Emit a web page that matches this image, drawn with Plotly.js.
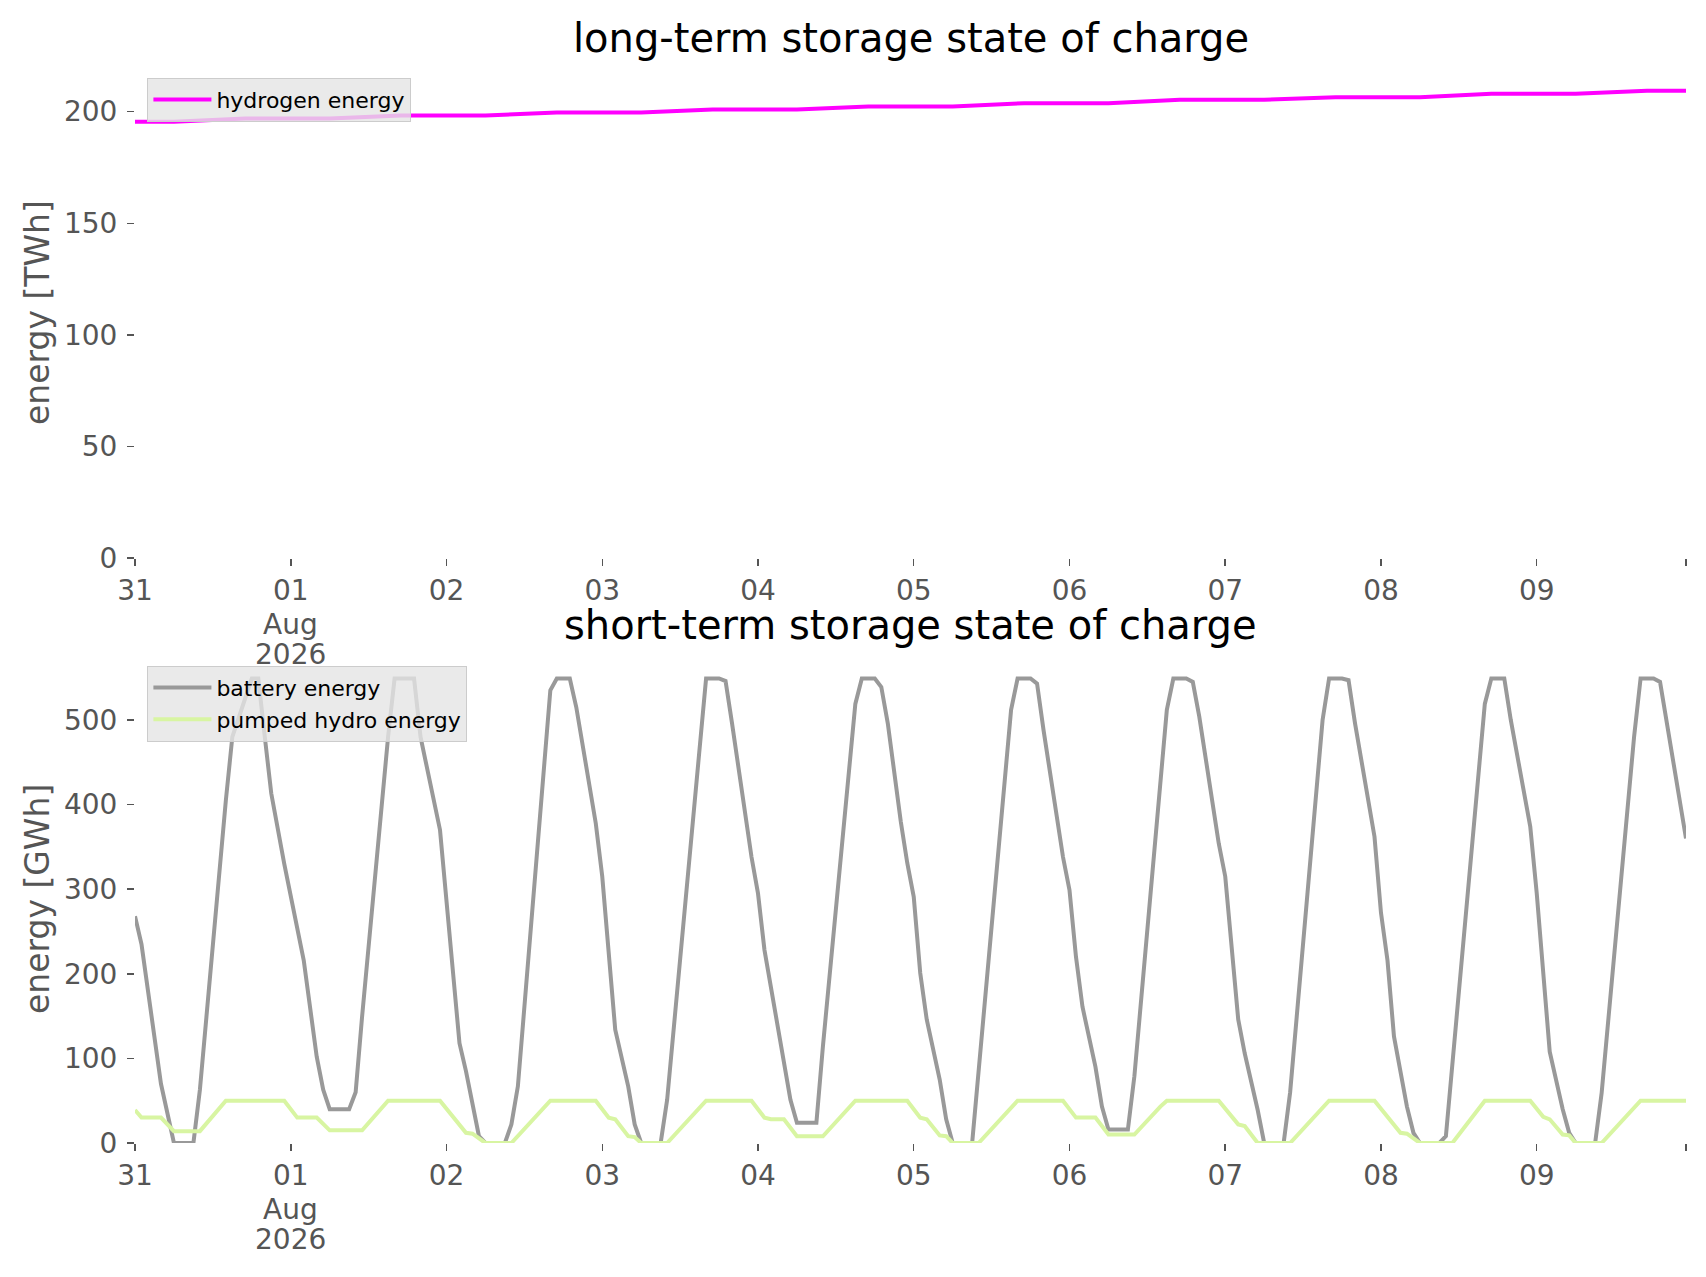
<!DOCTYPE html>
<html>
<head>
<meta charset="utf-8">
<script src="https://cdn.plot.ly/plotly-3.0.1.min.js"></script>
<style>
  html, body { margin: 0; padding: 0; background: #fff; }
  #myPlot { width: 1706px; height: 1277px; }
</style>
</head>
<body>
<div id="myPlot"></div>
<script>
// hours since 2026-07-31 00:00 and the values
let hydrogenHours = [0, 6, 17, 30, 41, 54, 65, 78, 89, 102, 113, 126, 137, 150, 161, 174, 185, 198, 209, 222, 233, 239];
let hydrogenTWh = [195.5, 195.5, 196.9, 196.9, 198.3, 198.3, 199.6, 199.6, 201.0, 201.0, 202.3, 202.3, 203.8, 203.8, 205.3, 205.3, 206.5, 206.5, 208.0, 208.0, 209.4, 209.4];

let batteryHours = [0, 1, 4, 6, 9, 10, 14, 15, 18, 19, 20, 21, 23, 24, 26, 28, 29, 30, 33, 34, 35, 39, 40, 43, 44, 47, 48, 50, 51, 53, 54, 57, 58, 59, 64, 65, 67, 68, 71, 72, 74, 76, 77, 78, 81, 82, 88, 90, 91, 92, 95, 96, 97, 100, 101, 102, 105, 106, 111, 112, 114, 115, 116, 118, 119, 120, 121, 122, 124, 125, 126, 129, 135, 136, 138, 139, 140, 143, 144, 145, 146, 148, 149, 150, 153, 154, 159, 160, 162, 163, 164, 167, 168, 170, 171, 173, 174, 177, 178, 183, 184, 186, 187, 188, 191, 192, 193, 194, 196, 197, 198, 201, 202, 208, 209, 211, 212, 215, 216, 218, 220, 221, 222, 225, 226, 231, 232, 234, 235, 239];
let batteryGWh = [268, 235, 70, 0, 0, 63, 405, 480, 549, 549, 480, 413, 330, 290, 216, 102, 63, 40, 40, 60, 150, 480, 549, 549, 480, 370, 290, 118, 85, 8, 0, 0, 22, 67, 535, 549, 549, 515, 378, 315, 134, 67, 22, 0, 0, 51, 549, 549, 546, 496, 338, 295, 228, 90, 51, 24, 24, 114, 519, 549, 549, 539, 496, 380, 331, 291, 201, 146, 75, 28, 0, 0, 512, 549, 549, 543, 488, 338, 299, 220, 161, 90, 43, 16, 16, 79, 512, 549, 549, 545, 504, 354, 315, 146, 106, 39, 0, 0, 60, 500, 549, 549, 547, 496, 362, 272, 216, 126, 43, 12, 0, 0, 8, 519, 549, 549, 500, 374, 295, 108, 40, 12, 0, 0, 59, 480, 549, 549, 545, 360];

let hydroHours = [0, 1, 4, 6, 10, 14, 23, 25, 28, 30, 35, 39, 47, 51, 52, 54, 58, 64, 71, 73, 74, 76, 77, 78, 82, 88, 95, 97, 98, 100, 102, 106, 111, 119, 121, 122, 124, 125, 126, 130, 136, 143, 145, 148, 150, 154, 158, 159, 167, 170, 171, 173, 178, 184, 191, 195, 196, 198, 203, 208, 215, 217, 218, 220, 221, 222, 226, 232, 239];
let hydroGWh = [39, 30, 30, 14, 14, 50, 50, 30, 30, 15, 15, 50, 50, 12, 11, 0, 0, 50, 50, 30, 28, 8, 7, 0, 0, 50, 50, 30, 28, 28, 8, 8, 50, 50, 30, 28, 9, 8, 0, 0, 50, 50, 30, 30, 10, 10, 43, 50, 50, 22, 20, 0, 0, 50, 50, 12, 11, 0, 0, 50, 50, 31, 28, 10, 9, 0, 0, 50, 50];

let tickDays = ['2026-07-31', '2026-08-01', '2026-08-02', '2026-08-03', '2026-08-04', '2026-08-05', '2026-08-06', '2026-08-07', '2026-08-08', '2026-08-09', '2026-08-09 23:00'];
let tickLabels = ['31', '01', '02', '03', '04', '05', '06', '07', '08', '09', ''];
// month and year written under the first of the month, one line each
let monthDay = '2026-08-01';
let monthLines = ['Aug', '2026'];

let baseTime = Date.UTC(2026, 6, 31);
function toDate(h) {
  let d = new Date(baseTime + h * 3600000);
  return d.toISOString().slice(0, 16).replace('T', ' ');
}

let font = 'DejaVu Sans, Liberation Sans, sans-serif';
let tickFont = { family: font, size: 28, color: '#555555' };

var trace1 = {
  x: hydrogenHours.map(toDate),
  y: hydrogenTWh,
  name: 'hydrogen energy',
  type: 'scatter',
  mode: 'lines',
  line: { color: '#ff00ff', width: 4 },
  xaxis: 'x', yaxis: 'y',
  legend: 'legend'
};
var trace2 = {
  x: batteryHours.map(toDate),
  y: batteryGWh,
  name: 'battery energy',
  type: 'scatter',
  mode: 'lines',
  line: { color: '#999999', width: 4 },
  xaxis: 'x2', yaxis: 'y2',
  legend: 'legend2'
};
var trace3 = {
  x: hydroHours.map(toDate),
  y: hydroGWh,
  name: 'pumped hydro energy',
  type: 'scatter',
  mode: 'lines',
  line: { color: '#d8f5a2', width: 4 },
  xaxis: 'x2', yaxis: 'y2',
  legend: 'legend2'
};

function xAxis(anchor) {
  return {
    anchor: anchor,
    domain: [0, 1],
    type: 'date',
    range: ['2026-07-31 00:00', '2026-08-09 23:00'],
    tickmode: 'array',
    tickvals: tickDays,
    ticktext: tickLabels,
    ticks: 'outside',
    ticklen: 7,
    tickwidth: 1.5,
    tickcolor: '#555555',
    ticklabelstandoff: 0,
    tickfont: tickFont,
    showgrid: false,
    zeroline: false,
    showline: false
  };
}

function yAxis(anchor, domain, range, dtick, title) {
  return {
    anchor: anchor,
    domain: domain,
    range: range,
    dtick: dtick,
    ticks: 'outside',
    ticklen: 7,
    tickwidth: 1.5,
    tickcolor: '#555555',
    ticklabelstandoff: 4,
    tickfont: tickFont,
    showgrid: false,
    zeroline: false,
    showline: false,
    title: { text: title, standoff: 4, font: { family: font, size: 33, color: '#555555' } }
  };
}

var legendStyle = function(y) {
  return {
    x: 0.008, y: y, xanchor: 'left', yanchor: 'top',
    bgcolor: 'rgba(229,229,229,0.8)',
    bordercolor: '#cccccc',
    borderwidth: 1,
    font: { family: font, size: 22, color: '#000000' },
    itemwidth: 58,
    tracegroupgap: 0
  };
};

function monthNotes(yDomain) {
  return monthLines.map(function(txt, i) {
    return {
      text: txt,
      xref: 'x', x: monthDay,
      yref: yDomain, y: 0,
      yanchor: 'middle', xanchor: 'center',
      yshift: -66 - 30 * i,
      showarrow: false,
      font: tickFont
    };
  });
}

var layout = {
  width: 1706,
  height: 1277,
  margin: { l: 135, r: 20, t: 67, b: 134 },
  paper_bgcolor: '#ffffff',
  plot_bgcolor: '#ffffff',
  showlegend: true,
  xaxis: xAxis('y'),
  yaxis: yAxis('x', [0.5435, 1], [0, 220], 50, 'energy [TWh]'),
  xaxis2: xAxis('y2'),
  yaxis2: yAxis('x2', [0, 0.4537], [0, 577], 100, 'energy [GWh]'),
  legend: legendStyle(0.99),
  legend2: legendStyle(0.4435),
  annotations: [
    {
      text: 'long-term storage state of charge',
      xref: 'paper', yref: 'paper', x: 0.5, y: 1.027,
      xanchor: 'center', yanchor: 'middle', showarrow: false,
      font: { family: font, size: 40, color: '#000000' }
    },
    {
      text: 'short-term storage state of charge',
      xref: 'paper', yref: 'paper', x: 0.5, y: 0.481,
      xanchor: 'center', yanchor: 'middle', showarrow: false,
      font: { family: font, size: 40, color: '#000000' }
    }
  ].concat(monthNotes('y domain'), monthNotes('y2 domain'))
};

Plotly.newPlot('myPlot', [trace1, trace2, trace3], layout, { staticPlot: true });
</script>
</body>
</html>
